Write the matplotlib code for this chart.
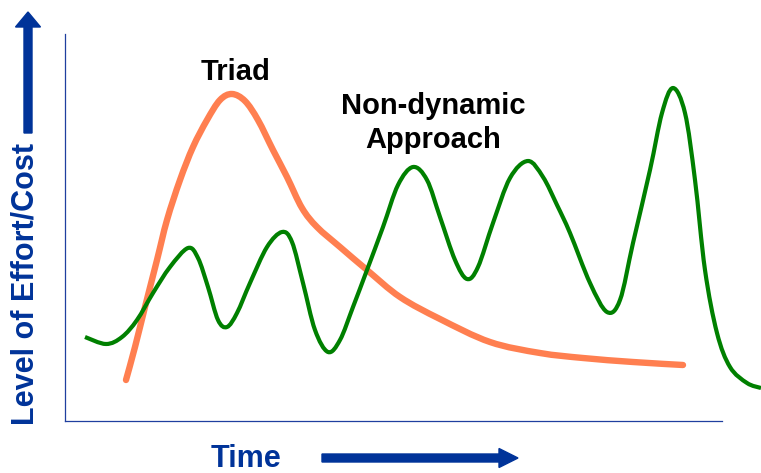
import matplotlib
matplotlib.use("Agg")
import matplotlib.pyplot as plt
from matplotlib.patches import FancyArrow, PathPatch
from matplotlib.path import Path
from matplotlib.transforms import IdentityTransform

# ---- data (time, effort) ----
triad_time = [126, 135, 145, 157, 167, 180, 193, 207, 220, 232, 245, 258, 273,
              287, 302, 317, 340, 367, 400, 440, 490, 540, 583, 633, 683]
triad_level = [380, 347, 307, 260, 220, 180, 147, 120, 100, 94, 101, 120, 150,
               177, 208, 227, 247, 270, 297, 319, 342, 353, 358, 362, 365]

nondyn_time = [85, 106, 122, 137, 153, 170, 188, 198, 208, 218, 227, 237, 250, 267,
               282, 292, 303, 315, 328, 340, 353, 367, 383, 398, 413, 427, 440, 455,
               467, 478, 493, 510, 528, 543, 557, 570, 590, 607, 620, 633, 650, 662,
               673, 685, 695, 705, 717, 730, 747, 761]
nondyn_level = [337, 344, 337, 320, 293, 267, 248, 258, 287, 320, 327, 313, 283, 247,
                232, 242, 283, 330, 352, 340, 307, 270, 227, 185, 167, 180, 217, 260,
                279, 267, 223, 178, 161, 177, 205, 233, 283, 312, 300, 243, 170, 113,
                88, 113, 180, 270, 333, 367, 383, 388]

# convert picture rows to effort (higher = more effort)
BASE = 421
triad_effort = [BASE - v for v in triad_level]
nondyn_effort = [BASE - v for v in nondyn_level]


def smooth_path(xs, ys):
    """Bezier path through the given points (Catmull-Rom style handles)."""
    pts = list(zip(xs, ys))
    n = len(pts)
    verts = [pts[0]]
    codes = [Path.MOVETO]
    for i in range(n - 1):
        p0 = pts[i - 1] if i > 0 else pts[i]
        p1 = pts[i]
        p2 = pts[i + 1]
        p3 = pts[i + 2] if i + 2 < n else pts[i + 1]
        c1 = (p1[0] + (p2[0] - p0[0]) / 6, p1[1] + (p2[1] - p0[1]) / 6)
        c2 = (p2[0] - (p3[0] - p1[0]) / 6, p2[1] - (p3[1] - p1[1]) / 6)
        verts += [c1, c2, p2]
        codes += [Path.CURVE4] * 3
    return Path(verts, codes)


W, H = 761, 473
fig = plt.figure(figsize=(W / 100, H / 100), dpi=100)
ax = fig.add_axes([65 / W, (H - 421) / H, 657 / W, 387 / H])
ax.set_xlim(65, 722)
ax.set_ylim(0, 387)

blue = "#003399"
ax.add_patch(PathPatch(smooth_path(triad_time, triad_effort), fill=False,
                       edgecolor="#FF7F50", lw=4.6, capstyle="round",
                       joinstyle="round", zorder=3))
ax.add_patch(PathPatch(smooth_path(nondyn_time, nondyn_effort), fill=False,
                       edgecolor="#008000", lw=3.0, capstyle="butt",
                       joinstyle="round", clip_on=False, zorder=4))

for s in ["top", "right"]:
    ax.spines[s].set_visible(False)
for s in ["left", "bottom"]:
    ax.spines[s].set_color("#1f3f9f")
    ax.spines[s].set_linewidth(0.9)
ax.set_xticks([])
ax.set_yticks([])

font = "Liberation Sans"
# labels on the curves
fig.text(236 / W, 1 - 72 / H, "Triad", ha="center", va="center",
         fontsize=21, fontweight="bold", family=font, color="black")
fig.text(433 / W, 1 - 123 / H, "Non-dynamic\nApproach", ha="center", va="center",
         fontsize=21, fontweight="bold", family=font, color="black",
         linespacing=1.3)

# axis titles
fig.text(26 / W, 1 - 284 / H, "Level of Effort/Cost", rotation=90,
         ha="center", va="center", fontsize=22, fontweight="bold",
         family=font, color=blue)
fig.text(246 / W, 1 - 459 / H, "Time", ha="center", va="center",
         fontsize=22, fontweight="bold", family=font, color=blue)

# arrows (pixel coordinates)
up = FancyArrow(28, H - 133, 0, 133 - 12, width=8, head_width=25, head_length=15,
                length_includes_head=True, color=blue, transform=IdentityTransform())
right = FancyArrow(322, H - 458, 518 - 322, 0, width=8, head_width=19, head_length=19,
                   length_includes_head=True, color=blue, transform=IdentityTransform())
fig.patches.extend([up, right])

fig.savefig("out.png", dpi=100)
